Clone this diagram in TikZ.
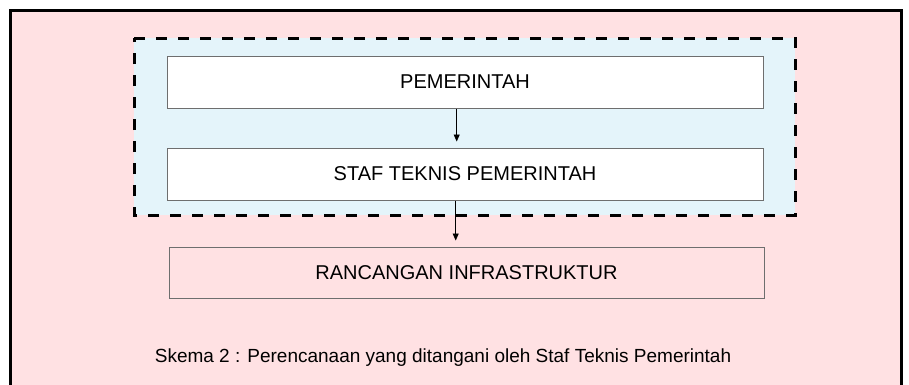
\documentclass[tikz,border=0pt]{standalone}
\usepackage{fontspec}
\setmainfont{Liberation Sans}
\usetikzlibrary{arrows.meta,calc}
\definecolor{bgpink}{RGB}{255,225,227}
\definecolor{bgblue}{RGB}{228,244,250}
\definecolor{boxgray}{RGB}{110,110,110}
\begin{document}
\begin{tikzpicture}[x=1pt,y=-1pt,
  txt/.style={font=\fontsize{20}{22}\selectfont},
  captxt/.style={font=\fontsize{19}{22}\selectfont},
  whitebox/.style={draw=boxgray,line width=1pt,fill=white,minimum width=596pt,minimum height=52pt,inner sep=0pt,txt},
  pinkbox/.style={draw=boxgray,line width=1pt,minimum width=595pt,minimum height=51pt,inner sep=0pt,txt},
  conn/.style={line width=0.8pt,-{Triangle[length=7pt,width=6pt]},shorten >=6pt}]
\useasboundingbox (0,0) rectangle (909,384);
\fill[white] (0,0) rectangle (909,384);
% outer frame
\draw[line width=3pt,fill=bgpink] (10.5,10.5) rectangle (901,400);
% dashed group
\fill[bgblue] (134,38) rectangle (795,215);
\draw[line width=3pt,dash pattern=on 11pt off 11pt] (134,38) -- (795,38) -- (795,215) -- (134,215) -- cycle;
% boxes
\node[whitebox] (b1) at (465,82) {PEMERINTAH};
\node[whitebox] (b2) at (465,174) {STAF TEKNIS PEMERINTAH};
\node[pinkbox] (b3) at (466.5,272.5) {RANCANGAN INFRASTRUKTUR};
% arrows
\draw[conn] (b1.south -| 456.7,0) -- (b2.north -| 456.7,0);
\draw[conn] (b2.south -| 455.7,0) -- (b3.north -| 455.7,0);
% caption
\node[captxt] (cap) at (443,358) {Skema 2 : Perencanaan yang ditangani oleh Staf Teknis Pemerintah};
\end{tikzpicture}
\end{document}
